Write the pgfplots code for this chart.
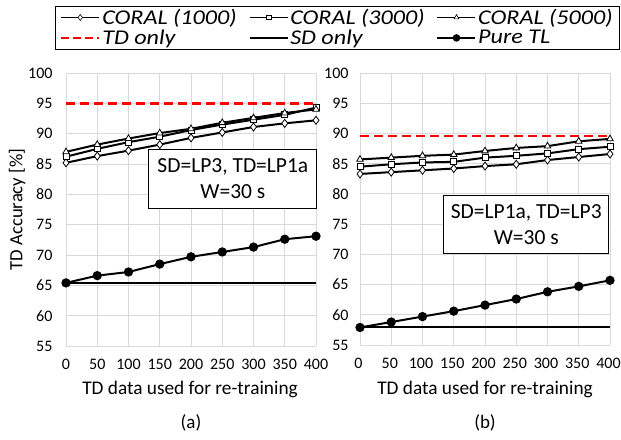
\documentclass[border=0pt]{standalone}
\usepackage{pgfplots}
\pgfplotsset{compat=1.18}
\usepackage{pgfplotstable}
\usepackage{fontspec}
\setmainfont{Carlito}
\newfontfamily\legfont{Carlito}[FakeStretch=1.15]
\definecolor{gridgray}{HTML}{D9D9D9}

\pgfplotstableread{
x   c1   c3   c5   tl
0   85.2 86.2 87.0 65.4
50  86.3 87.5 88.2 66.6
100 87.2 88.6 89.2 67.2
150 88.2 89.5 90.1 68.5
200 89.3 90.6 90.8 69.7
250 90.2 91.5 91.8 70.5
300 91.1 92.3 92.6 71.3
350 91.7 93.1 93.4 72.6
400 92.2 94.3 94.0 73.1
}\leftdata

\pgfplotstableread{
x   c1   c3   c5   tl
0   83.3 84.5 85.7 57.9
50  83.6 84.9 86.0 58.8
100 83.9 85.2 86.3 59.7
150 84.2 85.3 86.5 60.6
200 84.6 86.0 87.1 61.6
250 84.9 86.3 87.6 62.6
300 85.6 86.7 87.9 63.8
350 86.1 87.4 88.7 64.7
400 86.6 87.8 89.1 65.7
}\rightdata

\pgfplotsset{
  panel/.style={
    scale only axis, width=250pt,
    xmin=0, xmax=400, ymin=55, ymax=100,
    xtick={0,50,...,400}, ytick={55,60,...,100},
    grid=major, major grid style={gridgray, line width=0.8pt},
    axis line style={draw=none}, major tick length=0pt,
    /pgf/number format/assume math mode=true,
    tick label style={font=\fontsize{16}{17}\selectfont},
    xticklabel style={anchor=center, yshift=-18pt},
    clip=false,
  },
  c1/.style={black, line width=2pt, mark=diamond*, mark size=4pt,
    mark options={fill=white, line width=0.8pt}},
  c3/.style={black, line width=2pt, mark=square*, mark size=3pt,
    mark options={fill=white, line width=0.8pt}},
  c5/.style={black, line width=2pt, mark=triangle*, mark size=3.8pt,
    mark options={fill=white, line width=0.8pt}},
  tl/.style={black, line width=2pt, mark=*, mark size=3.6pt},
  tdonly/.style={red, line width=2.4pt, dash pattern=on 9pt off 5pt},
  sdonly/.style={black, line width=2pt},
}

\begin{document}
\begin{tikzpicture}[x=1pt, y=1pt]
\useasboundingbox (0,0) rectangle (621,439);

\begin{axis}[panel, at={(66pt,93pt)}, anchor=south west, height=273pt,
  yticklabel style={anchor=east, xshift=-10pt},
  legend columns=3,
  legend cell align=left,
  legend image code/.code={
    \draw[mark repeat=2, mark phase=2] plot coordinates {(0pt,0pt) (19pt,0pt) (38pt,0pt)};
  },
  legend style={at={(1.086,1.1667)}, anchor=center, draw=black, line width=0.8pt,
    font=\legfont\itshape\fontsize{21}{24}\selectfont,
    inner xsep=5pt, inner ysep=1pt,
    nodes={inner xsep=2pt, inner ysep=2pt},
    /tikz/every even column/.append style={column sep=10pt}},
]
  \addlegendimage{black, line width=1.5pt, mark=diamond*, mark size=3pt, mark options={fill=white, line width=0.6pt}}
  \addlegendentry{CORAL (1000)}
  \addlegendimage{black, line width=1.5pt, mark=square*, mark size=2.3pt, mark options={fill=white, line width=0.6pt}}
  \addlegendentry{CORAL (3000)}
  \addlegendimage{black, line width=1.5pt, mark=triangle*, mark size=2.8pt, mark options={fill=white, line width=0.6pt}}
  \addlegendentry{CORAL (5000)}
  \addlegendimage{red, line width=2pt, dash pattern=on 8pt off 4pt}
  \addlegendentry{TD only}
  \addlegendimage{black, line width=1.5pt}
  \addlegendentry{SD only}
  \addlegendimage{black, line width=1.5pt, mark=*, mark size=3pt}
  \addlegendentry{Pure TL}

  \addplot[tdonly, forget plot] coordinates {(0,95) (400,95)};
  \addplot[sdonly, forget plot] coordinates {(0,65.4) (400,65.4)};
  \addplot[tl, forget plot] table[x=x, y=tl] {\leftdata};
  \addplot[c1, forget plot] table[x=x, y=c1] {\leftdata};
  \addplot[c3, forget plot] table[x=x, y=c3] {\leftdata};
  \addplot[c5, forget plot] table[x=x, y=c5] {\leftdata};
  \node[draw=black, line width=0.8pt, fill=white, align=center,
    minimum width=168pt, minimum height=59pt, font=\fontsize{21.5}{26}\selectfont]
    at (axis cs:267,82.6) {SD=LP3, TD=LP1a\\W=30 s};
\end{axis}

\begin{axis}[panel, at={(360pt,94pt)}, anchor=south west, height=272pt,
  yticklabel style={anchor=east, xshift=-8pt},
  xticklabel style={xshift=-1.5pt},
]
  \addplot[tdonly] coordinates {(0,89.6) (400,89.6)};
  \addplot[sdonly] coordinates {(0,57.9) (400,57.9)};
  \addplot[tl] table[x=x, y=tl] {\rightdata};
  \addplot[c1] table[x=x, y=c1] {\rightdata};
  \addplot[c3] table[x=x, y=c3] {\rightdata};
  \addplot[c5] table[x=x, y=c5] {\rightdata};
  \node[draw=black, line width=0.8pt, fill=white, align=center,
    minimum width=165pt, minimum height=58pt, font=\fontsize{21.5}{26}\selectfont]
    at (axis cs:266,75.0) {SD=LP1a, TD=LP3\\W=30 s};
\end{axis}

\node[rotate=90, font=\fontsize{18.7}{20}\selectfont] at (17,229.5) {TD Accuracy [\%]};
\node[font=\fontsize{19.3}{21}\selectfont] at (190,50) {TD data used for re-training};
\node[font=\fontsize{19.3}{21}\selectfont] at (485,50) {TD data used for re-training};
\node[font=\fontsize{19}{21}\selectfont] at (191,16) {(a)};
\node[font=\fontsize{19}{21}\selectfont] at (485,16) {(b)};
\end{tikzpicture}
\end{document}
